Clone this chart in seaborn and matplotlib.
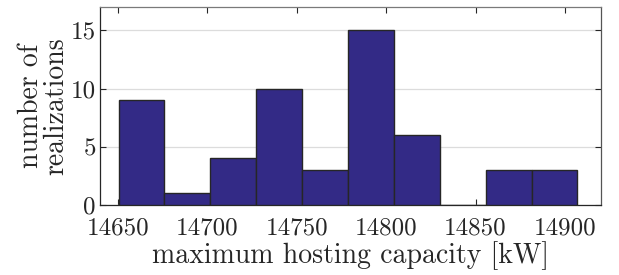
import numpy as np
import pandas as pd
import seaborn as sns
import matplotlib
matplotlib.use("Agg")
import matplotlib.pyplot as plt

# Data
bin_start = 14650.4
bin_end = 14907.0
n_bins = 10
counts = [9, 1, 4, 10, 3, 15, 6, 0, 3, 3]
x_ticks = [14650, 14700, 14750, 14800, 14850, 14900]
y_ticks = [0, 5, 10, 15]

edges = np.linspace(bin_start, bin_end, n_bins + 1)
centers = (edges[:-1] + edges[1:]) / 2
df = pd.DataFrame({"capacity": centers, "count": counts})

sns.set_theme(style="white")
plt.rcParams["font.family"] = ["cmr10", "DejaVu Serif"]
plt.rcParams["mathtext.fontset"] = "cm"
plt.rcParams["axes.formatter.use_mathtext"] = True
plt.rcParams["axes.unicode_minus"] = False

fig = plt.figure(figsize=(6.19, 2.75), dpi=100)
ax = fig.add_axes([100 / 619, 70 / 275, 500.7 / 619, 198 / 275])

sns.histplot(data=df, x="capacity", weights="count", bins=[float(e) for e in edges],
             ax=ax, color="#332a86", alpha=1.0, edgecolor="#262626",
             linewidth=1.0, zorder=3)

ax.set_xlim(14640, 14920)
ax.set_ylim(0, 17)
ax.set_xticks(x_ticks)
ax.set_yticks(y_ticks)
ax.set_xticklabels([str(t) for t in x_ticks])
ax.set_yticklabels([str(t) for t in y_ticks])
ax.yaxis.grid(True, color="#dcdcdc", linewidth=0.9, zorder=0)
ax.set_axisbelow(True)

ax.tick_params(direction="in", length=4, width=0.8, colors="#262626",
               labelsize=18, top=True, right=True, bottom=True, left=True,
               labelcolor="#262626")
ax.tick_params(axis="x", pad=9)
ax.tick_params(axis="y", pad=3)
for s in ax.spines.values():
    s.set_visible(True)
    s.set_color("#262626")
    s.set_linewidth(0.9)
ax.spines["top"].set_color("#7a7a7a")
ax.spines["right"].set_color("#555555")

ax.set_xlabel("maximum hosting capacity [kW]", fontsize=20, color="#262626",
              labelpad=1)
ax.set_ylabel("number of\nrealizations", fontsize=20, color="#262626",
              labelpad=1, linespacing=0.95)

fig.savefig("out.png", dpi=100)
